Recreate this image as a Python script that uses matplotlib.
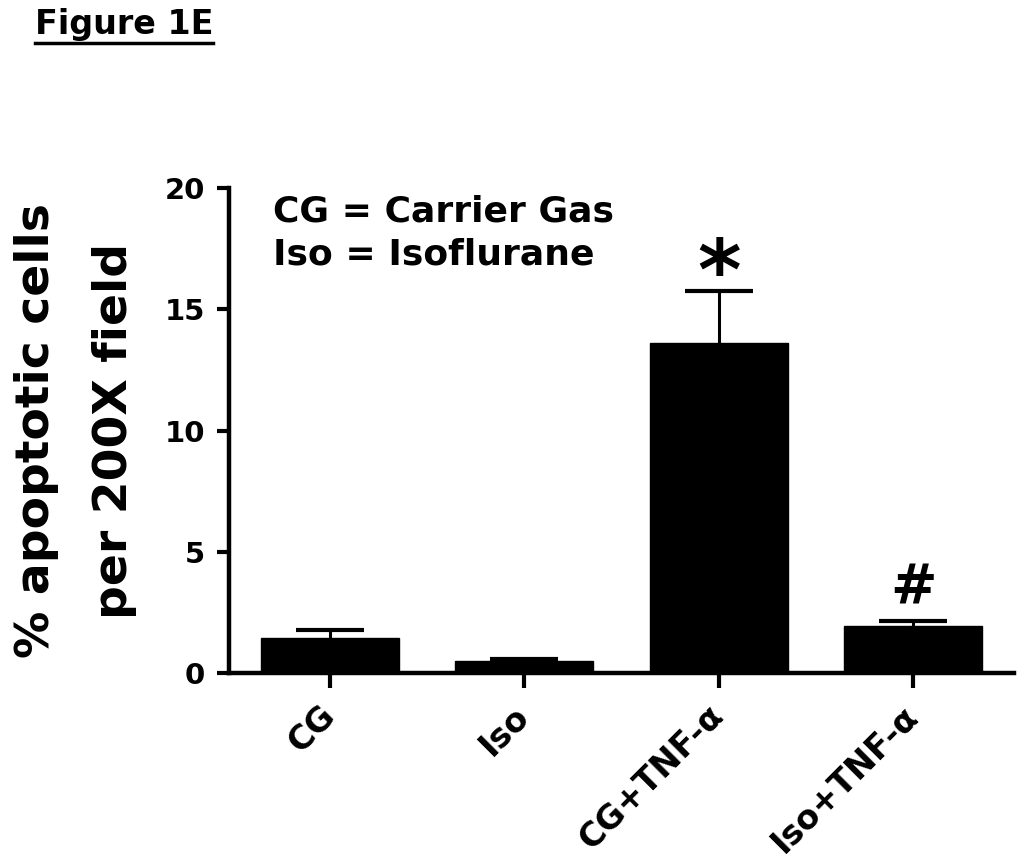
import matplotlib
matplotlib.use("Agg")
import matplotlib.pyplot as plt
from matplotlib.lines import Line2D

# данные
groups = ["CG", "Iso", "CG+TNF-α", "Iso+TNF-α"]
means = [1.45, 0.5, 13.6, 1.95]
sems = [0.35, 0.1, 2.15, 0.2]
marks = ["", "", "*", "#"]
yticks = [0, 5, 10, 15, 20]

plt.rcParams["font.family"] = ["DejaVu Sans"]
plt.rcParams["font.weight"] = "bold"

fig = plt.figure(figsize=(10.24, 8.61), dpi=100)
ax = fig.add_axes([0.2236, 0.218, 0.767, 0.564])

x = list(range(len(groups)))
ax.bar(x, means, width=0.71, color="black", edgecolor="black", zorder=2)
# только верхняя половина планки погрешности (как в GraphPad)
tops = [m + s for m, s in zip(means, sems)]
cap = 0.175
ax.vlines(x, means, tops, colors="black", linewidth=2.2, zorder=1)
ax.hlines(tops, [xi - cap for xi in x], [xi + cap for xi in x],
          colors="black", linewidth=3, zorder=1)

ax.set_xlim(-0.52, 3.52)
ax.set_ylim(0, 20)
ax.set_yticks(yticks)
ax.set_xticks(x)
ax.set_xticklabels(groups, rotation=45, ha="right", va="center",
                   rotation_mode="anchor", fontsize=24, fontweight="bold")
ax.tick_params(axis="y", labelsize=21, width=3, length=9, pad=8)
ax.tick_params(axis="x", width=3, length=11, pad=16)
for lab in ax.get_yticklabels():
    lab.set_fontweight("bold")

for side in ("top", "right"):
    ax.spines[side].set_visible(False)
for side in ("left", "bottom"):
    ax.spines[side].set_linewidth(3.2)

ax.set_ylabel("% apoptotic cells\nper 200X field", fontsize=34, fontweight="bold",
              labelpad=20, linespacing=1.95)

# значимость над столбцами
for xi, t_, mk in zip(x, tops, marks):
    if mk == "*":
        ax.annotate(mk, (xi, t_), xytext=(0, -6), textcoords="offset points",
                    ha="center", va="baseline", fontsize=60, fontweight="bold")
    elif mk == "#":
        ax.annotate(mk, (xi, t_), xytext=(0, 13), textcoords="offset points",
                    ha="center", va="baseline", fontsize=40, fontweight="bold")

ax.text(0.056, 0.985, "CG = Carrier Gas\nIso = Isoflurane", transform=ax.transAxes,
        ha="left", va="top", fontsize=26, fontweight="bold", linespacing=1.3)

# заголовок с подчёркиванием
t = fig.text(0.034, 0.960, "Figure 1E", ha="left", va="baseline",
             fontsize=24, fontweight="bold")
fig.canvas.draw()
bb = t.get_window_extent().transformed(fig.transFigure.inverted())
fig.add_artist(Line2D([bb.x0, bb.x1], [0.950, 0.950], color="black", lw=2.5,
                      transform=fig.transFigure))

fig.savefig("out.png", dpi=100)
